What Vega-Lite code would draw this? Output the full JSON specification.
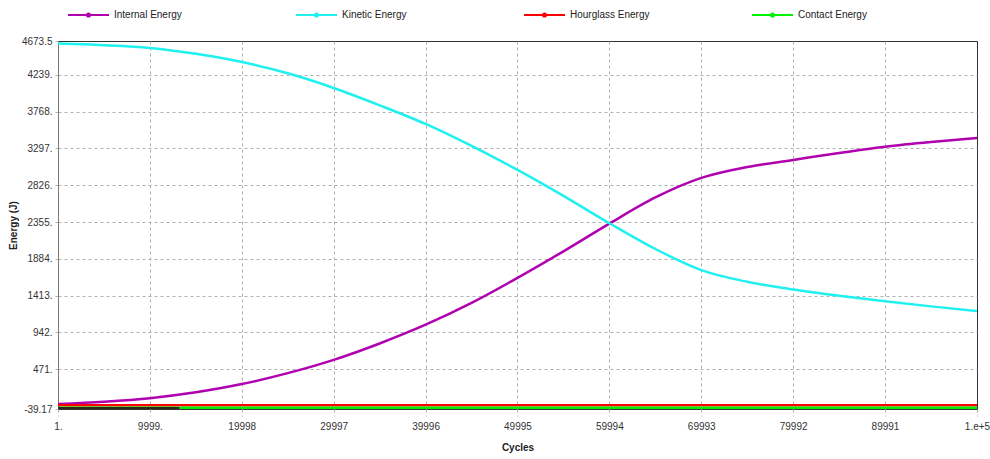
{
  "$schema": "https://vega.github.io/schema/vega-lite/v6.json",
  "width": 919,
  "height": 368,
  "autosize": "none",
  "padding": {"left": 58, "top": 41, "right": 13, "bottom": 50},
  "background": "white",
  "config": {
    "view": {"stroke": "#333", "strokeWidth": 1},
    "font": "Liberation Sans",
    "axis": {
      "labelFont": "Liberation Sans",
      "labelFontSize": 10,
      "labelColor": "#333",
      "titleFont": "Liberation Sans",
      "titleFontSize": 10,
      "titleFontWeight": "bold",
      "titleColor": "#222",
      "grid": true,
      "gridDash": [3, 3],
      "gridWidth": 1,
      "tickColor": "#b0b0b0",
      "tickDash": [3, 3],
      "domainColor": "#777"
    }
  },
  "data": {
    "values": [
      {"series": "Internal Energy", "cycles": 1, "energy": 25},
      {"series": "Internal Energy", "cycles": 5000, "energy": 55},
      {"series": "Internal Energy", "cycles": 10000, "energy": 100},
      {"series": "Internal Energy", "cycles": 15000, "energy": 175},
      {"series": "Internal Energy", "cycles": 20000, "energy": 280},
      {"series": "Internal Energy", "cycles": 25000, "energy": 420},
      {"series": "Internal Energy", "cycles": 30000, "energy": 590},
      {"series": "Internal Energy", "cycles": 35000, "energy": 800},
      {"series": "Internal Energy", "cycles": 40000, "energy": 1040},
      {"series": "Internal Energy", "cycles": 45000, "energy": 1320},
      {"series": "Internal Energy", "cycles": 50000, "energy": 1640},
      {"series": "Internal Energy", "cycles": 55000, "energy": 1980},
      {"series": "Internal Energy", "cycles": 60000, "energy": 2335},
      {"series": "Internal Energy", "cycles": 65000, "energy": 2670},
      {"series": "Internal Energy", "cycles": 70000, "energy": 2920},
      {"series": "Internal Energy", "cycles": 75000, "energy": 3060},
      {"series": "Internal Energy", "cycles": 80000, "energy": 3150},
      {"series": "Internal Energy", "cycles": 85000, "energy": 3240},
      {"series": "Internal Energy", "cycles": 90000, "energy": 3320},
      {"series": "Internal Energy", "cycles": 95000, "energy": 3380},
      {"series": "Internal Energy", "cycles": 100000, "energy": 3430},
      {"series": "Kinetic Energy", "cycles": 1, "energy": 4640},
      {"series": "Kinetic Energy", "cycles": 5000, "energy": 4620},
      {"series": "Kinetic Energy", "cycles": 10000, "energy": 4585},
      {"series": "Kinetic Energy", "cycles": 15000, "energy": 4510},
      {"series": "Kinetic Energy", "cycles": 20000, "energy": 4405},
      {"series": "Kinetic Energy", "cycles": 25000, "energy": 4260},
      {"series": "Kinetic Energy", "cycles": 30000, "energy": 4072},
      {"series": "Kinetic Energy", "cycles": 35000, "energy": 3850},
      {"series": "Kinetic Energy", "cycles": 40000, "energy": 3611},
      {"series": "Kinetic Energy", "cycles": 45000, "energy": 3330},
      {"series": "Kinetic Energy", "cycles": 50000, "energy": 3022},
      {"series": "Kinetic Energy", "cycles": 55000, "energy": 2690},
      {"series": "Kinetic Energy", "cycles": 60000, "energy": 2340},
      {"series": "Kinetic Energy", "cycles": 65000, "energy": 2010},
      {"series": "Kinetic Energy", "cycles": 70000, "energy": 1740},
      {"series": "Kinetic Energy", "cycles": 75000, "energy": 1590},
      {"series": "Kinetic Energy", "cycles": 80000, "energy": 1490},
      {"series": "Kinetic Energy", "cycles": 85000, "energy": 1410},
      {"series": "Kinetic Energy", "cycles": 90000, "energy": 1340},
      {"series": "Kinetic Energy", "cycles": 95000, "energy": 1275},
      {"series": "Kinetic Energy", "cycles": 100000, "energy": 1216},
      {"series": "Hourglass Energy", "cycles": 1, "energy": 8},
      {"series": "Hourglass Energy", "cycles": 100000, "energy": 8},
      {"series": "Contact Energy", "cycles": 1, "energy": -22},
      {"series": "Contact Energy", "cycles": 100000, "energy": -22},
      {"series": "Other", "cycles": 1, "energy": -30},
      {"series": "Other", "cycles": 13200, "energy": -30}
    ]
  },
  "mark": {"type": "line", "strokeWidth": 2.5, "clip": true, "interpolate": "monotone"},
  "encoding": {
    "x": {
      "field": "cycles",
      "type": "quantitative",
      "title": "Cycles",
      "scale": {"domain": [1, 100000], "nice": false, "zero": false},
      "axis": {
        "values": [1, 9999, 19998, 29997, 39996, 49995, 59994, 69993, 79992, 89991, 100000],
        "labelExpr": "datum.value == 1 ? '1.' : datum.value == 9999 ? '9999.' : datum.value == 100000 ? '1.e+5' : format(datum.value, 'd')",
        "gridColor": {"condition": {"test": "datum.value == 1 || datum.value == 100000", "value": "transparent"}, "value": "#b0b0b0"},
        "tickSize": 7,
        "labelPadding": 5,
        "titlePadding": 11,
        "domain": false,
        "labelFlush": false
      }
    },
    "y": {
      "field": "energy",
      "type": "quantitative",
      "title": "Energy (J)",
      "scale": {"domain": [-39.17, 4673.5], "nice": false, "zero": false},
      "axis": {
        "values": [-39.17, 471, 942, 1413, 1884, 2355, 2826, 3297, 3768, 4239, 4673.5],
        "labelExpr": "datum.value == 4673.5 ? '4673.5' : datum.value == -39.17 ? '-39.17' : datum.value + '.'",
        "gridColor": {"condition": {"test": "datum.value == 4673.5 || datum.value == -39.17", "value": "transparent"}, "value": "#b0b0b0"},
        "tickSize": 5,
        "labelPadding": 1,
        "titlePadding": 3,
        "labelFlush": false
      }
    },
    "color": {
      "field": "series",
      "type": "nominal",
      "scale": {
        "domain": ["Internal Energy", "Kinetic Energy", "Hourglass Energy", "Contact Energy", "Other"],
        "range": ["#b000b0", "#20f0f0", "#ff0000", "#00f000", "#2a2a10"]
      },
      "legend": {
        "values": ["Internal Energy", "Kinetic Energy", "Hourglass Energy", "Contact Energy"],
        "title": null,
        "orient": "none",
        "legendX": 9,
        "legendY": -48,
        "direction": "horizontal",
        "columns": 4,
        "gridAlign": "all",
        "columnPadding": 98,
        "padding": 0,
        "symbolType": "M-1,0H1M0.075,0A0.075,0.075,0,1,1,-0.075,0A0.075,0.075,0,1,1,0.075,0Z",
        "symbolSize": 1681,
        "symbolStrokeWidth": 2,
        "labelOffset": 4,
        "labelFont": "Liberation Sans",
        "labelFontSize": 10,
        "labelColor": "#222",
        "encode": {
          "symbols": {"update": {"fill": {"scale": "color", "field": "value"}, "fillOpacity": {"value": 1}}}
        }
      }
    }
  }
}
